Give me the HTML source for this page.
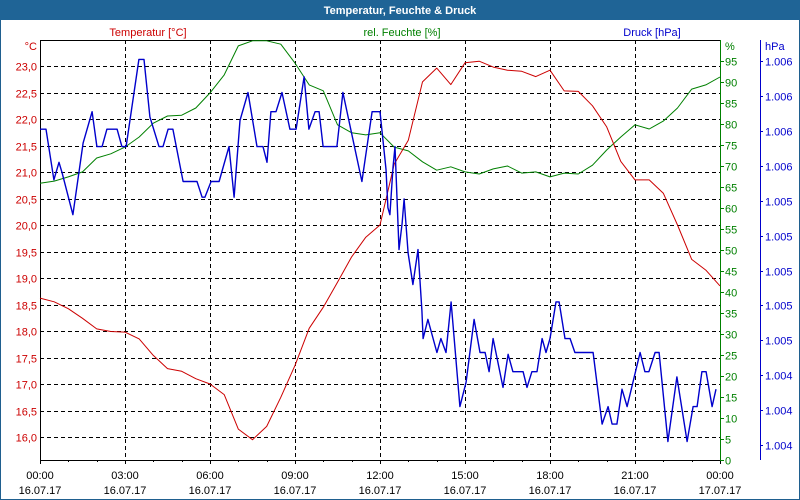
<!DOCTYPE html>
<html><head><meta charset="utf-8"><style>
body{margin:0;background:#fff;}
svg{display:block;font-family:"Liberation Sans",sans-serif;font-size:11px;}
</style></head><body>
<svg id="c" width="800" height="500" viewBox="0 0 800 500">
<rect x="0.5" y="0.5" width="799" height="499" fill="#fff" stroke="#1f5f8f"/>
<rect x="0" y="0" width="800" height="20" fill="#1f6496"/>
<text x="400" y="14" text-anchor="middle" fill="#fff" font-weight="bold">Temperatur, Feuchte &amp; Druck</text>
<text x="148" y="36" text-anchor="middle" fill="#cc0000">Temperatur [°C]</text>
<text x="402" y="36" text-anchor="middle" fill="#008000">rel. Feuchte [%]</text>
<text x="652" y="36" text-anchor="middle" fill="#0000cc">Druck [hPa]</text>
<g id="grid"></g><g id="axes"></g><g id="series"></g>
</svg>
<script>
const tempTimes=[0,0.5,1,1.5,2,2.5,3,3.5,4,4.5,5,5.5,6,6.5,7,7.5,8,8.5,9,9.5,10,10.5,11,11.5,12,12.5,13,13.5,14,14.5,15,15.5,16,16.5,17,17.5,18,18.5,19,19.5,20,20.5,21,21.5,22,22.5,23,23.5,24];
const tempValues=[18.62,18.55,18.42,18.24,18.04,17.99,17.98,17.85,17.54,17.29,17.24,17.10,17.00,16.80,16.15,15.95,16.20,16.75,17.35,18.05,18.45,18.92,19.40,19.77,20.00,21.15,21.60,22.70,22.96,22.65,23.06,23.09,22.98,22.92,22.90,22.80,22.92,22.53,22.52,22.25,21.85,21.20,20.85,20.85,20.60,20.00,19.35,19.15,18.85];
const humValues=[65.9,66.4,67.4,68.6,71.9,72.9,74.5,76.9,80.2,81.9,82.1,83.8,87.4,91.7,98.6,99.8,99.8,99.0,94.5,89.3,87.9,79.8,77.9,77.4,77.9,74.5,73.6,71.0,69.0,69.8,68.6,68.1,69.3,70.0,68.3,68.6,67.4,68.3,68.1,70.2,73.8,76.9,79.8,78.8,80.7,83.8,88.3,89.3,91.2];
const pressTimes=[0,0.21,0.49,0.67,0.78,1.16,1.52,1.84,2.01,2.19,2.36,2.72,2.89,3.04,3.49,3.67,3.88,4.20,4.34,4.52,4.69,5.05,5.54,5.72,5.82,6.04,6.32,6.67,6.85,7.06,7.34,7.66,7.87,8.01,8.15,8.33,8.54,8.82,9.04,9.32,9.49,9.71,9.85,9.99,10.48,10.69,11.36,11.72,12.0,12.21,12.28,12.35,12.46,12.53,12.67,12.78,12.85,12.99,13.16,13.34,13.48,13.52,13.69,14.01,14.15,14.33,14.51,14.82,15.04,15.32,15.53,15.71,15.85,15.99,16.34,16.52,16.69,17.05,17.19,17.36,17.54,17.72,17.86,18.0,18.21,18.32,18.53,18.71,18.88,19.52,19.84,20.05,20.19,20.36,20.54,20.72,21.18,21.35,21.49,21.71,21.85,22.16,22.48,22.84,23.05,23.19,23.36,23.51,23.72,23.86];
const pressValues=[1005.81,1005.81,1005.52,1005.62,1005.56,1005.32,1005.73,1005.91,1005.71,1005.71,1005.81,1005.81,1005.71,1005.71,1006.21,1006.21,1005.88,1005.71,1005.71,1005.81,1005.81,1005.51,1005.51,1005.42,1005.42,1005.51,1005.51,1005.71,1005.42,1005.86,1006.02,1005.71,1005.71,1005.62,1005.91,1005.91,1006.02,1005.81,1005.81,1006.11,1005.81,1005.91,1005.91,1005.71,1005.71,1006.02,1005.51,1005.91,1005.91,1005.58,1005.36,1005.32,1005.59,1005.71,1005.12,1005.27,1005.41,1005.10,1004.92,1005.12,1004.77,1004.61,1004.72,1004.53,1004.61,1004.53,1004.82,1004.22,1004.36,1004.72,1004.53,1004.53,1004.42,1004.61,1004.33,1004.52,1004.42,1004.42,1004.33,1004.42,1004.42,1004.61,1004.53,1004.61,1004.82,1004.82,1004.61,1004.61,1004.53,1004.53,1004.12,1004.22,1004.12,1004.12,1004.32,1004.22,1004.53,1004.42,1004.42,1004.53,1004.53,1004.02,1004.39,1004.02,1004.22,1004.22,1004.42,1004.42,1004.22,1004.32];
const tempTicks=[16.0,16.5,17.0,17.5,18.0,18.5,19.0,19.5,20.0,20.5,21.0,21.5,22.0,22.5,23.0];
const humTicks=[0,5,10,15,20,25,30,35,40,45,50,55,60,65,70,75,80,85,90,95];
const pressTicks=[1004.0,1004.2,1004.4,1004.6,1004.8,1005.0,1005.2,1005.4,1005.6,1005.8,1006.0,1006.2];
const timeLabels=["00:00","03:00","06:00","09:00","12:00","15:00","18:00","21:00","00:00"];
const dateLabels=["16.07.17","16.07.17","16.07.17","16.07.17","16.07.17","16.07.17","16.07.17","16.07.17","17.07.17"];

const L=40,R=720,T=40,B=460;
const xS=h=>L+h*(R-L)/24;
const yT=v=>66+(23-v)*53;
const yH=v=>B-v*(B-T)/100;
const yP=v=>445-(v-1004)*174.5;
const NS='http://www.w3.org/2000/svg';
function mk(tag,attrs,parent,txt){const e=document.createElementNS(NS,tag);for(const k in attrs)e.setAttribute(k,attrs[k]);if(txt!==undefined)e.textContent=txt;parent.appendChild(e);return e;}
const grid=document.getElementById('grid'),axes=document.getElementById('axes'),series=document.getElementById('series');
tempTicks.forEach(v=>{const y=Math.round(yT(v))+0.5;
 const g=mk('line',{x1:L,x2:R,y1:y,y2:y,stroke:'#000','stroke-dasharray':'4,3'},grid);
 
 
 const t=mk('text',{x:37,y:y+4,'text-anchor':'end',fill:'#cc0000'},axes,v.toFixed(1).replace('.',','));
 
 
});
for(let i=1;i<8;i++){const x=Math.round(xS(i*3))+0.5;
 const g=mk('line',{x1:x,x2:x,y1:T,y2:B,stroke:'#000','stroke-dasharray':'4,3'},grid);
 
 }
for(let h=0;h<=24;h++){const x=Math.round(xS(h))+0.5;
 const tk=mk('line',{x1:x,x2:x,y1:B,y2:B+(h%3===0?4:2),stroke:'#000'},axes);
 
 }
timeLabels.forEach((s,i)=>{const x=xS(i*3);
 const a=mk('text',{x:x,y:479,'text-anchor':'middle',fill:'#000'},axes,s);
 
 
 const b=mk('text',{x:x,y:494,'text-anchor':'middle',fill:'#000'},axes,dateLabels[i]);
 
 });
const fr=mk('path',{d:`M${L+0.5},${B+0.5}V${T+0.5}H${R}M${L},${B+0.5}H${R}`,stroke:'#000',fill:'none'},axes);


const u1=mk('text',{x:37,y:50,'text-anchor':'end',fill:'#cc0000'},axes,'°C');


const ga=mk('line',{x1:R+0.5,x2:R+0.5,y1:T,y2:B+1,stroke:'#008000'},axes);


humTicks.forEach(v=>{const y=Math.round(yH(v))+0.5;
 mk('line',{x1:R,x2:R+4,y1:y,y2:y,stroke:'#008000'},axes);
 const t=mk('text',{x:725,y:y+4,fill:'#008000'},axes,String(v));
 
 });
const u2=mk('text',{x:725,y:50,fill:'#008000'},axes,'%');


const pa=mk('line',{x1:760.5,x2:760.5,y1:T,y2:B,stroke:'#0000cc'},axes);


pressTicks.forEach(v=>{const y=Math.round(yP(v))+0.5;
 mk('line',{x1:760,x2:763,y1:y,y2:y,stroke:'#0000cc'},axes);
 const t=mk('text',{x:765,y:y+4,fill:'#0000cc'},axes,'1.00'+Math.round(v-1000));
 
 });
const u3=mk('text',{x:765,y:50,fill:'#0000cc'},axes,'hPa');


function line(ts,vs,fy,col,w,name){const d=ts.map((t,i)=>(i?'L':'M')+xS(t).toFixed(1)+','+Math.max(T,fy(vs[i])).toFixed(1)).join('');
 const p=mk('path',{d:d,stroke:col,'stroke-width':w,fill:'none','stroke-linejoin':'round'},series);
 
 }
line(tempTimes,humValues,yH,'#008000',1,'humidity-line');
line(tempTimes,tempValues,yT,'#cc0000',1,'temperature-line');
line(pressTimes,pressValues,yP,'#0000cc',1.4,'pressure-line');
</script>
</body></html>
